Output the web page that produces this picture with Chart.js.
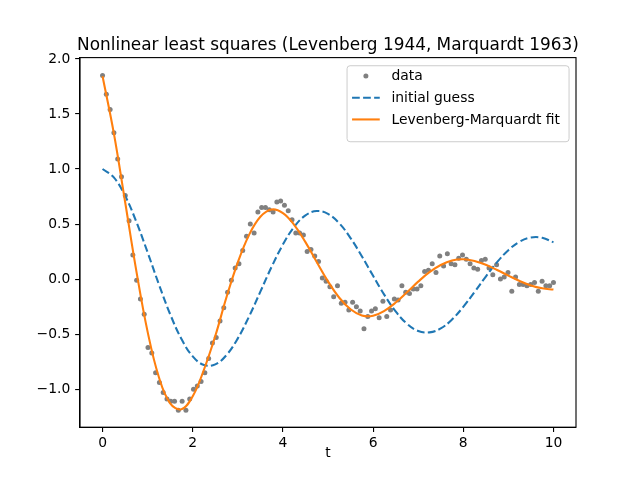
<!DOCTYPE html>
<html>
<head>
<meta charset="utf-8">
<title>Nonlinear least squares</title>
<script src="https://cdn.jsdelivr.net/npm/chart.js@4.4.1/dist/chart.umd.min.js"></script>
<style>
  html, body { margin: 0; padding: 0; background: #fff; }
  #wrap { width: 640px; height: 480px; }
</style>
</head>
<body>
<div id="wrap"><canvas id="c" width="640" height="480"></canvas></div>
<script>
  'use strict';

  /* ---- values ---- */
  var TITLE = 'Nonlinear least squares (Levenberg 1944, Marquardt 1963)';
  var X_LABEL = 't';
  var X_TICKS = [0, 2, 4, 6, 8, 10];
  var Y_TICKS = [-1.0, -0.5, 0.0, 0.5, 1.0, 1.5, 2.0];

  // noisy samples (gray dots)
  var dataT = [
    0, 0.084, 0.168, 0.252, 0.336, 0.420, 0.504, 0.588, 0.672, 0.756,
    0.840, 0.924, 1.008, 1.092, 1.176, 1.261, 1.345, 1.429, 1.513, 1.597,
    1.681, 1.765, 1.849, 1.933, 2.017, 2.101, 2.185, 2.269, 2.353, 2.437,
    2.521, 2.605, 2.689, 2.773, 2.857, 2.941, 3.025, 3.109, 3.193, 3.277,
    3.361, 3.445, 3.529, 3.613, 3.697, 3.782, 3.866, 3.950, 4.034, 4.118,
    4.202, 4.286, 4.370, 4.454, 4.538, 4.622, 4.706, 4.790, 4.874, 4.958,
    5.042, 5.126, 5.210, 5.294, 5.378, 5.462, 5.546, 5.630, 5.714, 5.798,
    5.882, 5.966, 6.050, 6.134, 6.218, 6.303, 6.387, 6.471, 6.555, 6.639,
    6.723, 6.807, 6.891, 6.975, 7.059, 7.143, 7.227, 7.311, 7.395, 7.479,
    7.563, 7.647, 7.731, 7.815, 7.899, 7.983, 8.067, 8.151, 8.235, 8.319,
    8.403, 8.487, 8.571, 8.655, 8.739, 8.824, 8.908, 8.992, 9.076, 9.160,
    9.244, 9.328, 9.412, 9.496, 9.580, 9.664, 9.748, 9.832, 9.916, 10.000
  ];
  var dataY = [
    1.85, 1.68, 1.54, 1.33, 1.09, 0.93, 0.76, 0.53, 0.22, -0.01,
    -0.18, -0.32, -0.62, -0.67, -0.85, -0.94, -1.03, -1.09, -1.11, -1.11,
    -1.19, -1.11, -1.19, -1.09, -1.00, -0.97, -0.93, -0.85, -0.72, -0.58,
    -0.53, -0.38, -0.26, -0.12, -0.01, 0.10, 0.14, 0.26, 0.39, 0.50,
    0.42, 0.61, 0.65, 0.65, 0.63, 0.61, 0.70, 0.71, 0.67, 0.62,
    0.54, 0.42, 0.42, 0.40, 0.25, 0.27, 0.21, 0.16, 0.01, -0.02,
    -0.07, -0.16, -0.06, -0.22, -0.21, -0.28, -0.21, -0.25, -0.29, -0.45,
    -0.34, -0.29, -0.27, -0.35, -0.20, -0.34, -0.28, -0.18, -0.19, -0.06,
    -0.12, -0.13, -0.09, -0.09, -0.06, 0.07, 0.08, 0.14, 0.06, 0.21,
    0.12, 0.23, 0.14, 0.13, 0.19, 0.22, 0.18, 0.14, 0.10, 0.09,
    0.17, 0.18, 0.10, 0.04, 0.13, 0.00, 0.02, 0.06, -0.11, 0.02,
    -0.05, -0.05, -0.06, -0.05, -0.03, -0.11, -0.02, -0.06, -0.06, -0.03
  ];

  // the two curves, read every 0.25 along t
  var curveT = [
    0, 0.25, 0.5, 0.75, 1, 1.25, 1.5, 1.75, 2, 2.25, 2.5, 2.75, 3, 3.25,
    3.5, 3.75, 4, 4.25, 4.5, 4.75, 5, 5.25, 5.5, 5.75, 6, 6.25, 6.5, 6.75,
    7, 7.25, 7.5, 7.75, 8, 8.25, 8.5, 8.75, 9, 9.25, 9.5, 9.75, 10
  ];
  var guessY = [
    1.000, 0.924, 0.757, 0.520, 0.242, -0.048, -0.319, -0.544, -0.702, -0.780,
    -0.774, -0.689, -0.538, -0.339, -0.114, 0.112, 0.314, 0.475, 0.579, 0.618,
    0.592, 0.507, 0.373, 0.208, 0.030, -0.143, -0.293, -0.405, -0.471, -0.484,
    -0.448, -0.367, -0.252, -0.117, 0.023, 0.154, 0.263, 0.340, 0.378, 0.375,
    0.334
  ];
  var fitY = [
    1.842, 1.326, 0.703, 0.073, -0.479, -0.891, -1.128, -1.182, -1.064, -0.821,
    -0.517, -0.163, 0.152, 0.402, 0.566, 0.632, 0.600, 0.493, 0.336, 0.155,
    -0.021, -0.169, -0.274, -0.330, -0.333, -0.288, -0.213, -0.120, -0.023, 0.063,
    0.128, 0.170, 0.181, 0.165, 0.130, 0.083, 0.032, -0.017, -0.057, -0.083,
    -0.095
  ];

  /* ---- matplotlib-ish look ---- */
  var FONT = "'DejaVu Sans', sans-serif";
  var PT = 100 / 72;                      // 1pt at 100 dpi
  Chart.defaults.font.family = FONT;
  Chart.defaults.font.size = 10 * PT;
  Chart.defaults.color = '#000';

  function pts(xs, ys) {
    return xs.map(function (x, i) { return { x: x, y: ys[i] }; });
  }
  function fmtY(v) {
    return v.toFixed(1).replace('-', '\u2212');
  }

  /** Title above the axes box, centred on the plot area like plt.title(). */
  var axesTitle = {
    id: 'axesTitle',
    afterDraw: function (chart) {
      var ctx = chart.ctx, a = chart.chartArea;
      ctx.save();
      ctx.font = '16.9px ' + FONT;
      ctx.fillStyle = '#000';
      ctx.textAlign = 'center';
      ctx.textBaseline = 'alphabetic';
      ctx.fillText(TITLE, (a.left + a.right) / 2, a.top - 7.8);
      ctx.restore();
    }
  };

  /** Full box frame (top/right spines too). */
  var frame = {
    id: 'frame',
    afterDatasetsDraw: function (chart) {
      var ctx = chart.ctx, a = chart.chartArea;
      ctx.save();
      ctx.strokeStyle = '#000';
      ctx.lineWidth = 0.8 * PT;
      ctx.strokeRect(a.left, a.top, a.right - a.left, a.bottom - a.top);
      ctx.restore();
    }
  };

  function roundRect(ctx, x, y, w, h, r) {
    ctx.beginPath();
    ctx.moveTo(x + r, y);
    ctx.lineTo(x + w - r, y);
    ctx.arcTo(x + w, y, x + w, y + r, r);
    ctx.lineTo(x + w, y + h - r);
    ctx.arcTo(x + w, y + h, x + w - r, y + h, r);
    ctx.lineTo(x + r, y + h);
    ctx.arcTo(x, y + h, x, y + h - r, r);
    ctx.lineTo(x, y + r);
    ctx.arcTo(x, y, x + r, y, r);
    ctx.closePath();
  }

  /** Legend inside the axes, upper right, matplotlib frame style. */
  var boxLegend = {
    id: 'boxLegend',
    afterDraw: function (chart) {
      var ctx = chart.ctx, a = chart.chartArea;
      var fs = 10 * PT;
      var w = 222, h = 76;
      var x0 = a.right - 0.5 * fs - w, y0 = a.top + 0.5 * fs + 1.2;
      var rowH = 21.7, firstRow = 10.3;
      ctx.save();
      roundRect(ctx, x0, y0, w, h, 3);
      ctx.fillStyle = 'rgba(255,255,255,0.8)';
      ctx.fill();
      ctx.strokeStyle = '#cccccc';
      ctx.lineWidth = 1;
      ctx.stroke();

      ctx.font = fs + 'px ' + FONT;
      ctx.textAlign = 'left';
      ctx.textBaseline = 'middle';
      chart.data.datasets.forEach(function (ds, i) {
        var y = y0 + firstRow + i * rowH;
        var hx0 = x0 + 5, hx1 = x0 + 32.7;
        if (ds.showLine) {
          ctx.beginPath();
          ctx.setLineDash(ds.borderDash || []);
          ctx.strokeStyle = ds.borderColor;
          ctx.lineWidth = ds.borderWidth;
          ctx.moveTo(hx0, y);
          ctx.lineTo(hx1, y);
          ctx.stroke();
          ctx.setLineDash([]);
        } else {
          ctx.beginPath();
          ctx.fillStyle = ds.pointBackgroundColor;
          ctx.arc((hx0 + hx1) / 2, y, ds.pointRadius, 0, Math.PI * 2);
          ctx.fill();
        }
        ctx.fillStyle = '#000';
        ctx.fillText(ds.label, x0 + 44.4, y + 0.5);
      });
      ctx.restore();
    }
  };

  new Chart(document.getElementById('c'), {
    type: 'scatter',
    data: {
      datasets: [
        {
          label: 'data',
          data: pts(dataT, dataY),
          showLine: false,
          pointRadius: 2.5,
          pointBackgroundColor: '#808080',
          pointBorderWidth: 0,
          order: 3
        },
        {
          label: 'initial guess',
          data: pts(curveT, guessY),
          showLine: true,
          borderColor: '#1f77b4',
          borderWidth: 1.5 * PT,
          borderDash: [3.7 * 1.5 * PT, 1.6 * 1.5 * PT],
          pointRadius: 0,
          tension: 0.4,
          order: 2
        },
        {
          label: 'Levenberg-Marquardt fit',
          data: pts(curveT, fitY),
          showLine: true,
          borderColor: '#ff7f0e',
          borderWidth: 1.5 * PT,
          pointRadius: 0,
          tension: 0.4,
          order: 1
        }
      ]
    },
    options: {
      responsive: false,
      animation: false,
      events: [],
      devicePixelRatio: 1,
      layout: { padding: { left: 0, right: 640 * 0.1, top: 480 * 0.12, bottom: 0 } },
      plugins: {
        legend: { display: false },
        tooltip: { enabled: false },
        title: { display: false }
      },
      scales: {
        x: {
          type: 'linear',
          min: -0.5,
          max: 10.5,
          afterFit: function (s) { s.height = 480 * 0.11; },
          afterBuildTicks: function (s) {
            s.ticks = X_TICKS.map(function (v) { return { value: v }; });
          },
          ticks: { padding: 3.2, maxRotation: 0, callback: function (v) { return String(v); } },
          grid: { drawOnChartArea: false, tickLength: 3.5 * PT, color: '#000', lineWidth: 0.8 * PT },
          border: { display: true, color: '#000', width: 0.8 * PT },
          title: { display: true, text: X_LABEL, padding: { top: 0, bottom: 18.5 } }
        },
        y: {
          type: 'linear',
          min: -1.345,
          max: 2.012,
          afterFit: function (s) { s.width = 640 * 0.125; },
          afterBuildTicks: function (s) {
            s.ticks = Y_TICKS.map(function (v) { return { value: v }; });
          },
          ticks: { padding: 3.5 * PT, callback: function (v) { return fmtY(v); } },
          grid: { drawOnChartArea: false, tickLength: 3.5 * PT, color: '#000', lineWidth: 0.8 * PT },
          border: { display: true, color: '#000', width: 0.8 * PT }
        }
      }
    },
    plugins: [frame, axesTitle, boxLegend]
  });
</script>
</body>
</html>
